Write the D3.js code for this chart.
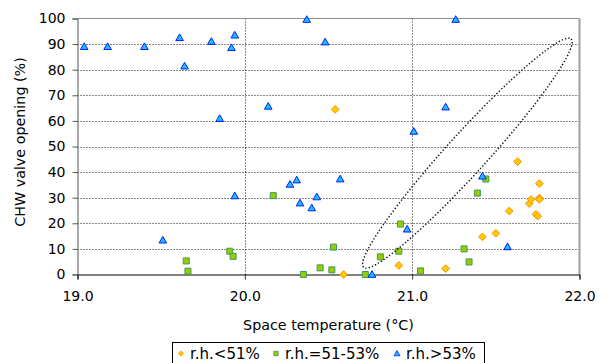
<!DOCTYPE html>
<html>
<head>
<meta charset="utf-8">
<script src="https://cdn.jsdelivr.net/npm/d3@7"></script>
<style>
  html, body { margin: 0; padding: 0; background: #fff; }
  svg { display: block; }
  text { font-family: "DejaVu Sans", Verdana, sans-serif; fill: #000; }
</style>
</head>
<body>
<svg id="chart" width="610" height="363"></svg>
<script>
// ---- data ----
const seriesNames = ["r.h.<51%", "r.h.=51-53%", "r.h.>53%"];

const lowTemp = [20.54, 20.59, 20.92, 21.20, 21.42, 21.50, 21.58, 21.63, 21.70, 21.71, 21.74, 21.75, 21.76, 21.76, 21.76];
const lowValve = [64.5, 0, 3.5, 2.3, 14.7, 16.1, 24.8, 44.1, 27.7, 29.3, 23.5, 22.8, 29.9, 29.3, 35.5];

const midTemp = [19.65, 19.66, 19.91, 19.93, 20.17, 20.35, 20.45, 20.52, 20.53, 20.72, 20.81, 20.92, 20.93, 21.05, 21.31, 21.34, 21.39, 21.44];
const midValve = [5.3, 1.3, 9.1, 7.1, 30.8, 0, 2.6, 1.8, 10.7, 0, 6.9, 9.1, 19.7, 1.4, 10, 4.9, 31.8, 37.3];

const highTemp = [19.04, 19.18, 19.40, 19.51, 19.61, 19.64, 19.80, 19.85, 19.92, 19.94, 19.94, 20.14, 20.27, 20.31, 20.33, 20.37, 20.40, 20.43, 20.48, 20.57, 20.76, 20.97, 21.01, 21.20, 21.26, 21.42, 21.57];
const highValve = [89, 89, 89, 13.4, 92.5, 81.4, 91, 60.9, 88.6, 93.5, 30.7, 65.7, 35.2, 36.9, 27.9, 99.6, 26, 30.3, 90.8, 37.3, 0, 17.7, 55.9, 65.4, 99.6, 38.4, 10.8];

const xTicks = [19.0, 20.0, 21.0, 22.0];
const yTicks = [0, 10, 20, 30, 40, 50, 60, 70, 80, 90, 100];

// annotation ellipse: tips in data units
const ellipseTips = [[20.71, 2.8], [21.95, 92]];

// ---- drawing ----
const svg = d3.select("#chart");
const x = d3.scaleLinear().domain([19, 22]).range([77.5, 579.5]);
const y = d3.scaleLinear().domain([0, 100]).range([274.5, 18.5]);

// gridlines
const grid = svg.append("g");
grid.selectAll("line.h").data(yTicks.filter(v => v > 0 && v < 100)).join("line")
  .attr("x1", x(19)).attr("x2", x(22))
  .attr("y1", d => Math.round(y(d)) + 0.5).attr("y2", d => Math.round(y(d)) + 0.5)
  .attr("stroke", "#111").attr("stroke-width", 1).attr("stroke-dasharray", "1,2");
grid.selectAll("line.v").data(xTicks.filter(v => v > 19 && v < 22)).join("line")
  .attr("x1", d => Math.round(x(d)) + 0.5).attr("x2", d => Math.round(x(d)) + 0.5)
  .attr("y1", y(100)).attr("y2", y(0))
  .attr("stroke", "#111").attr("stroke-width", 1).attr("stroke-dasharray", "1,2");

// frame (top & right gray)
svg.append("line").attr("x1", x(19)).attr("x2", x(22)).attr("y1", y(100)).attr("y2", y(100))
  .attr("stroke", "#909090").attr("stroke-width", 1);
svg.append("line").attr("x1", x(22)).attr("x2", x(22)).attr("y1", y(100)).attr("y2", y(0))
  .attr("stroke", "#a0a0a0").attr("stroke-width", 2);

// axes
const yAxis = d3.axisLeft(y).tickValues(yTicks).tickSize(5).tickPadding(7).tickFormat(d3.format("d"));
const gy = svg.append("g").attr("transform", `translate(${x(19)},0)`).call(yAxis);
gy.select(".domain").attr("stroke", "#555");
gy.selectAll(".tick line").attr("stroke", "#555");
gy.selectAll("text").style("font-size", "14px").attr("font-family", "DejaVu Sans, Verdana, sans-serif").attr("fill", "#000");

const xAxis = d3.axisBottom(x).tickValues(xTicks).tickSize(5).tickPadding(12).tickFormat(d3.format(".1f"));
const gx = svg.append("g").attr("transform", `translate(0,${y(0)})`).call(xAxis);
gx.select(".domain").attr("stroke", "#000");
gx.selectAll(".tick line").attr("stroke", "#333");
gx.selectAll("text").style("font-size", "14px").attr("font-family", "DejaVu Sans, Verdana, sans-serif").attr("fill", "#000");

// axis titles
svg.append("text").attr("x", (x(19) + x(22)) / 2).attr("y", 330)
  .attr("text-anchor", "middle").style("font-size", "14.3px").text("Space temperature (°C)");
svg.append("text").attr("transform", "translate(25,142) rotate(-90)")
  .attr("text-anchor", "middle").style("font-size", "14.3px").text("CHW valve opening (%)");

// marker shapes
function diamond(cx, cy, r) { return `M${cx},${cy - r}L${cx + r},${cy}L${cx},${cy + r}L${cx - r},${cy}Z`; }
function square(cx, cy, r) { return `M${cx - r},${cy - r}h${2 * r}v${2 * r}h${-2 * r}Z`; }
function triangle(cx, cy, r) { return `M${cx},${cy - r}L${cx + r},${cy + r * 0.75}L${cx - r},${cy + r * 0.75}Z`; }

const styles = [
  { shape: diamond, r: 3.8, fill: "#ffcc00", stroke: "#ff8c00", lr: 2.6 },
  { shape: square, r: 3, fill: "#99cc00", stroke: "#3f9a5a", lr: 2.2 },
  { shape: triangle, r: 3.8, fill: "#22bbff", stroke: "#0022ff", lr: 3 }
];

const seriesData = [
  lowTemp.map((t, i) => [t, lowValve[i]]),
  midTemp.map((t, i) => [t, midValve[i]]),
  highTemp.map((t, i) => [t, highValve[i]])
];

seriesData.forEach((pts, si) => {
  const st = styles[si];
  svg.append("g").selectAll("path").data(pts).join("path")
    .attr("d", d => st.shape(x(d[0]), y(d[1]), st.r))
    .attr("fill", st.fill).attr("stroke", st.stroke).attr("stroke-width", 1);
});

// dotted ellipse annotation
{
  const ax = x(ellipseTips[0][0]), ay = y(ellipseTips[0][1]);
  const bx = x(ellipseTips[1][0]), by = y(ellipseTips[1][1]);
  const cx = (ax + bx) / 2, cy = (ay + by) / 2;
  const rx = Math.hypot(bx - ax, by - ay) / 2;
  const ang = Math.atan2(by - ay, bx - ax) * 180 / Math.PI;
  svg.append("ellipse")
    .attr("cx", 0).attr("cy", 0).attr("rx", rx).attr("ry", 20)
    .attr("transform", `translate(${cx},${cy}) rotate(${ang})`)
    .attr("fill", "none").attr("stroke", "#111").attr("stroke-width", 1.4)
    .attr("stroke-dasharray", "1.4,2");
}

// legend
const lg = svg.append("g");
lg.append("rect").attr("x", 172.5).attr("y", 342.5).attr("width", 312).attr("height", 30)
  .attr("fill", "#fff").attr("stroke", "#000").attr("stroke-width", 1);
const legendX = [181, 276, 397];
seriesNames.forEach((name, i) => {
  const st = styles[i];
  lg.append("path").attr("d", st.shape(legendX[i], 353.5, st.lr))
    .attr("fill", st.fill).attr("stroke", st.stroke).attr("stroke-width", 0.8);
  lg.append("text").attr("x", legendX[i] + 9).attr("y", 358.5)
    .style("font-size", "15px").text(name);
});
</script>
</body>
</html>
